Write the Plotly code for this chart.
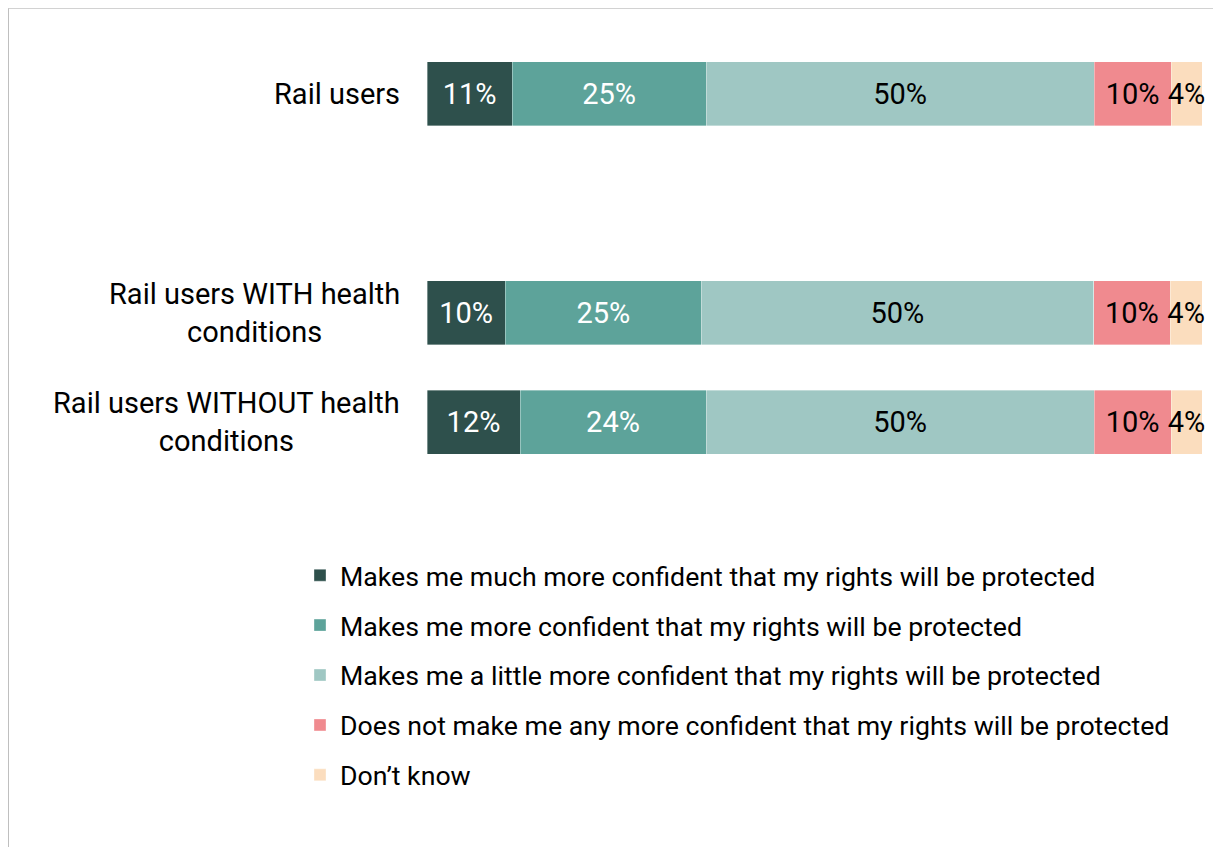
import plotly.graph_objects as go

categories = ["Rail users", "", "Rail users WITH health<br>conditions", "Rail users WITHOUT health<br>conditions"]
series_names = [
    "Makes me much more confident that my rights will be protected",
    "Makes me more confident that my rights will be protected",
    "Makes me a little more confident that my rights will be protected",
    "Does not make me any more confident that my rights will be protected",
    "Don\u2019t know",
]
much_more = [11.0, None, 10.1, 12.0]
more = [25.0, None, 25.3, 24.0]
little_more = [50.1, None, 50.6, 50.1]
not_more = [9.9, None, 9.9, 9.9]
dont_know = [4.0, None, 4.1, 4.0]
series_values = [much_more, more, little_more, not_more, dont_know]
much_more_labels = ["11%", "", "10%", "12%"]
more_labels = ["25%", "", "25%", "24%"]
little_more_labels = ["50%", "", "50%", "50%"]
not_more_labels = ["10%", "", "10%", "10%"]
dont_know_labels = ["4%", "", "4%", "4%"]
series_labels = [much_more_labels, more_labels, little_more_labels, not_more_labels, dont_know_labels]
colors = ["#2E504C", "#5DA39A", "#9FC7C3", "#F08A8F", "#FBDDBE"]
text_colors = ["white", "white", "black", "black", "black"]

OFF = 8  # page body margin
W, H = 1221 - OFF, 847 - OFF
L, R = 427 - OFF, 1202 - OFF
T, B = 39.25 - OFF, 476.75 - OFF

fig = go.Figure()
for i, (name, vals, labs) in enumerate(zip(series_names, series_values, series_labels)):
    fig.add_trace(go.Bar(
        y=categories, x=vals, name=name, orientation="h",
        marker=dict(color=colors[i], line=dict(color="rgba(255,255,255,0.6)", width=0.6)),
        text=labs, textangle=0, cliponaxis=False,
        textposition="inside", insidetextanchor="middle",
        textfont=dict(family="Roboto", size=29, color=text_colors[i]),
        legendgroup=f"g{i}", hoverinfo="skip",
    ))

for cat in categories:
    if cat:
        fig.add_annotation(
            x=(402 - OFF - L) / (R - L), xref="paper", y=cat, yref="y",
            text=cat, showarrow=False, xanchor="right", align="center",
            font=dict(family="Roboto", size=29, color="black"),
        )

fig.add_shape(type="rect", xref="paper", yref="paper",
              x0=(0.5 - L) / (R - L), x1=(W + 20 - L) / (R - L),
              y0=(B - (H + 20)) / (B - T), y1=(B - 0.5) / (B - T),
              line=dict(color="#BFBFBF", width=1), layer="below")

fig.update_layout(
    width=W, height=H,
    margin=dict(l=L, r=W - R, t=T, b=H - B, pad=0),
    barmode="stack", bargap=0.416,
    plot_bgcolor="white", paper_bgcolor="white",
    font=dict(family="Roboto", size=26.7, color="black"),
    xaxis=dict(range=[0, 100], visible=False, fixedrange=True),
    yaxis=dict(categoryorder="array", categoryarray=categories, autorange="reversed",
               showticklabels=False, showgrid=False, zeroline=False, showline=False,
               ticks="", fixedrange=True),
    uniformtext=dict(minsize=29, mode="show"),
    showlegend=True,
    legend=dict(orientation="v", x=(292 - L) / (R - L), xanchor="left",
                y=(B - 543) / (B - T), yanchor="top",
                traceorder="grouped", tracegroupgap=12.2,
                font=dict(family="Roboto", size=26.7, color="black"),
                bgcolor="rgba(0,0,0,0)"),
)

fig.write_html("out.html")
